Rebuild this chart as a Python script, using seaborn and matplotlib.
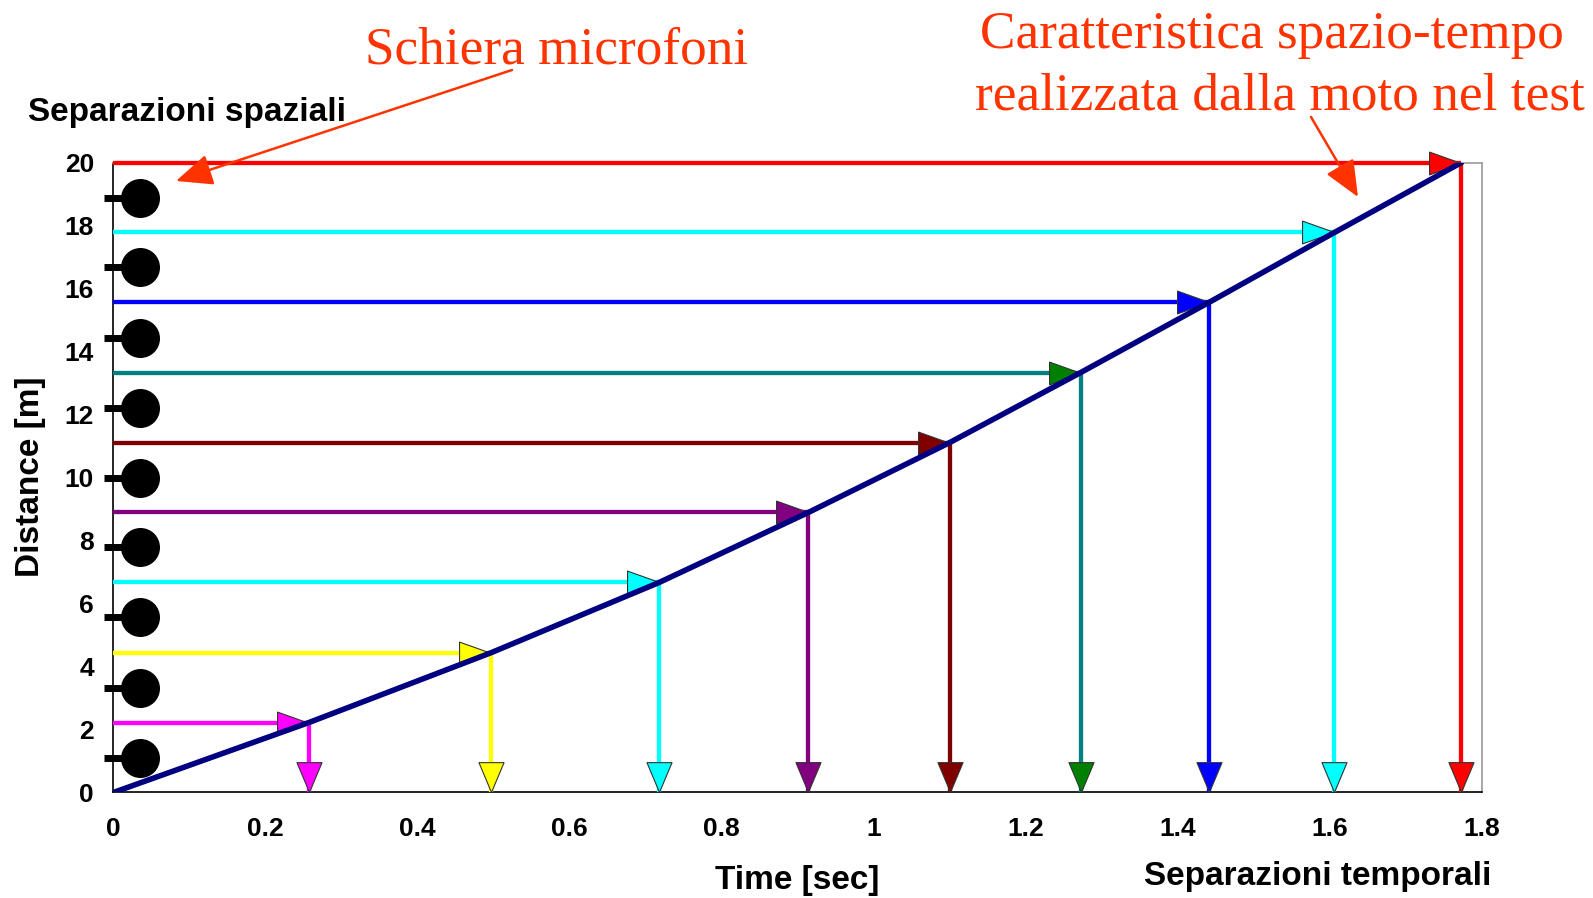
import numpy as np
import pandas as pd
import seaborn as sns
import matplotlib.pyplot as plt
from matplotlib.markers import MarkerStyle

# time at which the bike crosses each microphone separation
times = [0.257, 0.497, 0.718, 0.914, 1.100, 1.272, 1.441, 1.606, 1.773]
distances = [2.22, 4.44, 6.67, 8.89, 11.11, 13.33, 15.56, 17.78, 20.0]
line_colors = ['#FF00FF', '#FFFF00', '#00FFFF', '#800080', '#800000',
               '#008080', '#0000FF', '#00FFFF', '#FF0000']
head_colors = ['#FF00FF', '#FFFF00', '#00FFFF', '#800080', '#800000',
               '#008000', '#0000FF', '#00FFFF', '#FF0000']

# microphone array (between the separations)
mic_pos = [1.11, 3.33, 5.56, 7.78, 10.0, 12.22, 14.44, 16.67, 18.89]
mic_t = 0.035
stem_t = -0.0125

x_ticks = [0, 0.2, 0.4, 0.6, 0.8, 1.0, 1.2, 1.4, 1.6, 1.8]
x_labels = ['0', '0.2', '0.4', '0.6', '0.8', '1', '1.2', '1.4', '1.6', '1.8']
y_ticks = [0, 2, 4, 6, 8, 10, 12, 14, 16, 18, 20]

red_txt = '#FF3300'

sns.set_style("white")
plt.rcParams['font.family'] = ['Liberation Sans', 'DejaVu Sans']

fig = plt.figure(figsize=(15.93, 8.98), dpi=100)
ax = fig.add_axes([0.0712, 0.1175, 0.8591, 0.7015])

# arrow heads with the tip on the data point
right_head = MarkerStyle([(0, 0), (-1.4, 0.5), (-1.4, -0.5), (0, 0)])
down_head = MarkerStyle([(0, 0), (-0.42, 1.0), (0.42, 1.0), (0, 0)])

for t, d, lc, hc in zip(times, distances, line_colors, head_colors):
    ax.plot([0, t], [d, d], color=lc, lw=3.1, zorder=2.7, clip_on=False,
            solid_capstyle='butt')
    ax.plot([t, t], [d, 0], color=lc, lw=3.1, zorder=2.7, clip_on=False,
            solid_capstyle='butt')
    ax.plot([t], [d], marker=right_head, ms=46, color=hc, mec='#333333',
            mew=0.8, zorder=3, clip_on=False, ls='none')
    ax.plot([t], [0], marker=down_head, ms=43, color=hc, mec='#333333',
            mew=0.8, zorder=3, clip_on=False, ls='none')

# space-time characteristic
curve = pd.DataFrame({'t': [0] + times, 'd': [0] + distances})
sns.lineplot(data=curve, x='t', y='d', color='#000080', lw=4, ax=ax,
             zorder=4, sort=False)

# microphones
for m in mic_pos:
    ax.plot([stem_t, mic_t], [m, m], color='black', lw=5, clip_on=False,
            zorder=5, solid_capstyle='butt')
sns.scatterplot(x=[mic_t] * len(mic_pos), y=mic_pos, s=26 ** 2,
                color='black', edgecolor='black', ax=ax, zorder=6,
                clip_on=False)

ax.set_xlim(0, 1.8)
ax.set_ylim(0, 20)
ax.set_xticks(x_ticks)
ax.set_xticklabels(x_labels)
ax.set_yticks(y_ticks)
ax.tick_params(axis='both', direction='out', length=6, width=1,
               labelsize=19, pad=8, colors='black')
ax.tick_params(axis='x', pad=12)
for lbl in ax.get_xticklabels() + ax.get_yticklabels():
    lbl.set_fontweight('bold')
for s in ['left', 'bottom']:
    ax.spines[s].set_color('black')
    ax.spines[s].set_linewidth(1.2)
for s in ['right', 'top']:
    ax.spines[s].set_color('#999999')
    ax.spines[s].set_linewidth(1.2)
ax.set_xlabel('')
ax.set_ylabel('')

lab_font = dict(fontsize=24, fontweight='bold', color='black')
fig.text(30.5 / 1593, 1 - 477 / 898, 'Distance [m]', rotation=90,
         ha='center', va='center', **lab_font)
fig.text(797 / 1593, 1 - 880 / 898, 'Time [sec]', ha='center',
         va='center', **lab_font)
fig.text(1318 / 1593, 1 - 876 / 898, 'Separazioni temporali', ha='center',
         va='center', **lab_font)
fig.text(28 / 1593, 1 - 112 / 898, 'Separazioni spaziali', ha='left',
         va='center', **lab_font)

serif = ['Liberation Serif', 'DejaVu Serif']
fig.text(557 / 1593, 1 - 50 / 898, 'Schiera microfoni', ha='center',
         va='center', fontsize=38.3, color=red_txt, family=serif)
fig.text(1272 / 1593, 1 - 35 / 898, 'Caratteristica spazio-tempo',
         ha='center', va='center', fontsize=38.3, color=red_txt, family=serif)
fig.text(1280 / 1593, 1 - 97 / 898, 'realizzata dalla moto nel test',
         ha='center', va='center', fontsize=38.3, color=red_txt, family=serif)

arrow = dict(arrowstyle='-|>,head_length=1.5,head_width=0.65',
             color=red_txt, lw=1.8, mutation_scale=15, shrinkA=0, shrinkB=0)
ax.annotate('', xy=(176, 898 - 181), xycoords='figure pixels',
            xytext=(512, 898 - 70), textcoords='figure pixels',
            arrowprops=arrow, annotation_clip=False)
ax.annotate('', xy=(1358, 898 - 197), xycoords='figure pixels',
            xytext=(1311, 898 - 117), textcoords='figure pixels',
            arrowprops=arrow, annotation_clip=False)

fig.savefig('out.png', dpi=100)
